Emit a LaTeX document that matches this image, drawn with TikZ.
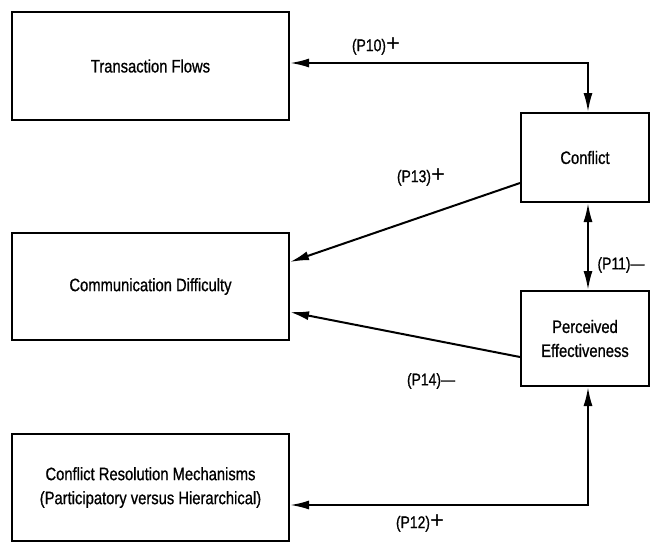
\documentclass[tikz,border=0pt]{standalone}
\usepackage{fontspec}
\setmainfont{Liberation Sans}[FakeStretch=0.82,FakeBold=0.8]
\newfontfamily\plainfont{Liberation Sans}
\usetikzlibrary{calc,arrows.meta}
\newcommand{\bigplus}{{\plainfont\fontsize{24}{24}\selectfont +}}
\begin{document}
\begin{tikzpicture}[x=1pt,y=-1pt,
  box/.style={draw,line width=2pt,inner sep=0pt,align=center,font=\fontsize{18}{24}\selectfont},
  lab/.style={font=\fontsize{17}{20}\selectfont,inner sep=0pt},
  conn/.style={line width=2pt,{Latex[length=19pt,width=9pt]}-{Latex[length=19pt,width=9pt]}},
  one/.style={line width=2pt,-{Latex[length=19pt,width=9pt]}}]
\useasboundingbox (0,0) rectangle (651,542);
\node[box,minimum width=277pt,minimum height=108pt] (tf) at (150.5,66) {Transaction Flows};
\node[box,minimum width=277pt,minimum height=107pt] (cd) at (150.5,286.5) {Communication Difficulty};
\node[box,minimum width=277pt,minimum height=107pt] (crm) at (150.5,487.5) {Conflict Resolution Mechanisms\\(Participatory versus Hierarchical)};
\node[box,minimum width=128pt,minimum height=89pt] (conf) at (585,157.5) {Conflict};
\node[box,minimum width=128pt,minimum height=95pt] (perc) at (585,338.5) {Perceived\\Effectiveness};
\draw[conn] ($(tf.east)+(0,-3)$) -| ($(conf.north)+(3,0)$);
\draw[conn] ($(conf.south)+(3,0)$) -- ($(perc.north)+(3,0)$);
\draw[conn] ($(crm.east)+(0,17.5)$) -| ($(perc.south)+(3,0)$);
\draw[one] ($(conf.west)+(0,25.5)$) -- ($(cd.east)+(0,-24.5)$);
\draw[one] ($(perc.west)+(0,18.5)$) -- ($(cd.east)+(0,25.5)$);
\node[lab] (l10) at (376,46) {(P10)\bigplus};
\node[lab] (l13) at (421,177) {(P13)\bigplus};
\node[lab] (l11) at (621,265) {(P11)—};
\node[lab] (l14) at (431,381) {(P14)—};
\node[lab] (l12) at (420,523) {(P12)\bigplus};
\end{tikzpicture}
\end{document}
